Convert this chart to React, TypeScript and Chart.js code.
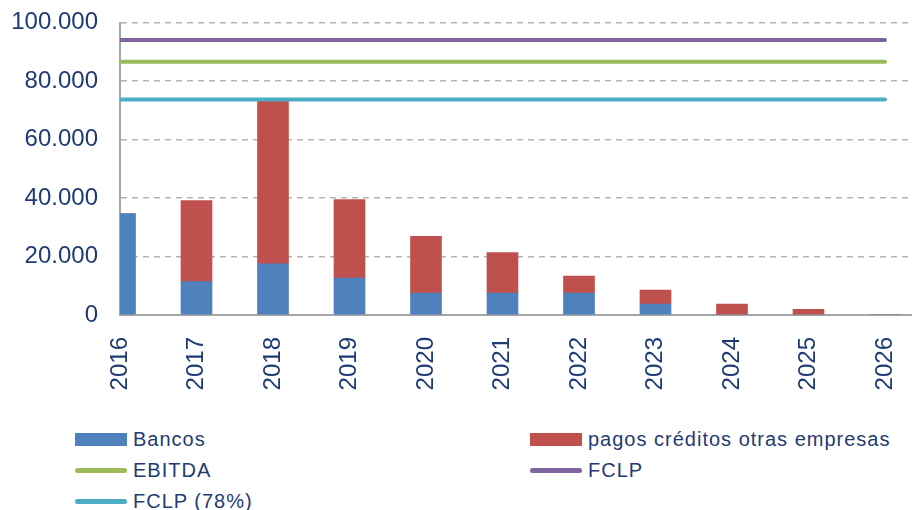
import React, { useEffect, useRef } from "react";
import { Chart, registerables } from "chart.js";

Chart.register(...registerables);

const years = ["2016", "2017", "2018", "2019", "2020", "2021", "2022", "2023", "2024", "2025", "2026"];
const bancos = [34700, 11400, 17500, 12600, 7500, 7500, 7500, 3700, 0, 0, 0];
const pagosCreditos = [0, 27700, 55800, 26900, 19400, 13800, 5800, 4800, 3700, 1900, 0];
const ebitda = [86600, 86600, 86600, 86600, 86600, 86600, 86600, 86600, 86600, 86600, 86600];
const fclp = [94000, 94000, 94000, 94000, 94000, 94000, 94000, 94000, 94000, 94000, 94000];
const fclp78 = [73700, 73700, 73700, 73700, 73700, 73700, 73700, 73700, 73700, 73700, 73700];
const yTicks = [0, 20000, 40000, 60000, 80000, 100000];

const TEXT = "#1F3B73";
const FONT = "'Liberation Sans', Arial, sans-serif";

const series = [
  { label: "Bancos", data: bancos, color: "#4F81BD", kind: "bar" },
  { label: "pagos créditos otras empresas", data: pagosCreditos, color: "#C0504D", kind: "bar" },
  { label: "EBITDA", data: ebitda, color: "#9BBB59", kind: "line" },
  { label: "FCLP", data: fclp, color: "#8064A2", kind: "line" },
  { label: "FCLP (78%)", data: fclp78, color: "#4BACC6", kind: "line" },
];

function fmt(v: number): string {
  return String(Math.round(v)).replace(/\B(?=(\d{3})+(?!\d))/g, ".");
}

export default function App() {
  const ref = useRef<HTMLCanvasElement>(null);

  useEffect(() => {
    if (!ref.current) return;
    const datasets: any[] = series.map((s, i) => {
      const pts = years.map((y, j) => ({ x: Number(y), y: s.data[j] }));
      if (s.kind === "bar") {
        return {
          type: "bar",
          label: s.label,
          data: pts,
          backgroundColor: s.color,
          borderWidth: 0,
          barThickness: 31,
          stack: "bars",
          order: 2,
        };
      }
      return {
        type: "line",
        label: s.label,
        data: pts,
        borderColor: s.color,
        backgroundColor: s.color,
        borderWidth: 4,
        pointRadius: 0,
        borderCapStyle: "round",
        stack: "line" + i,
        order: 1,
      };
    });

    const chart = new Chart(ref.current, {
      type: "bar",
      data: { datasets },
      options: {
        animation: false,
        responsive: false,
        layout: { padding: { top: 22.5, right: 0, bottom: 0, left: 0 } },
        plugins: { legend: { display: false }, tooltip: { enabled: false } },
        scales: {
          x: {
            type: "linear",
            stacked: true,
            offset: false,
            min: Number(years[0]),
            max: Number(years[years.length - 1]) + 0.353,
            grid: { display: false, offset: false },
            border: { display: true, color: "#A6A6A6", width: 2 },
            ticks: {
              stepSize: 1,
              includeBounds: false,
              autoSkip: false,
              maxRotation: 90,
              minRotation: 90,
              padding: 14,
              color: TEXT,
              font: { family: FONT, size: 24 },
              callback: (value: any) => {
                const idx = years.indexOf(String(value));
                return idx >= 0 ? years[idx] : "";
              },
            },
            afterFit: (scale: any) => {
              scale.height = 105;
              scale.paddingLeft = 0;
              scale.paddingRight = 0;
            },
          },
          y: {
            stacked: true,
            min: yTicks[0],
            max: yTicks[yTicks.length - 1],
            grid: {
              color: "#B3B3B3",
              lineWidth: 1.5,
              drawTicks: false,
            },
            border: { display: true, color: "#A6A6A6", width: 2, dash: [6, 5] },
            ticks: {
              stepSize: 20000,
              padding: 22,
              color: TEXT,
              font: { family: FONT, size: 24 },
              callback: (value: any) => fmt(Number(value)),
            },
            afterFit: (scale: any) => {
              scale.width = 120;
              scale.paddingTop = 0;
              scale.paddingBottom = 0;
            },
          },
        },
      } as any,
    });
    return () => chart.destroy();
  }, []);

  const rowTop = [428, 459, 490];
  const legendPos = [
    { left: 75, row: 0 },
    { left: 530, row: 0 },
    { left: 75, row: 1 },
    { left: 530, row: 1 },
    { left: 75, row: 2 },
  ];

  return (
    <div style={{ position: "absolute", left: 0, top: 0, width: 912, height: 510, background: "#fff", overflow: "hidden" }}>
      <canvas ref={ref} width={912} height={420} style={{ display: "block" }} />
      {series.map((s, i) => (
        <div
          key={s.label}
          style={{
            position: "absolute",
            left: legendPos[i].left,
            top: rowTop[legendPos[i].row],
            height: 22,
            display: "flex",
            alignItems: "center",
            whiteSpace: "nowrap",
          }}
        >
          <div
            style={{
              width: 52,
              height: s.kind === "bar" ? 13 : 5,
              borderRadius: s.kind === "bar" ? 0 : 3,
              background: s.color,
              marginRight: 6,
            }}
          />
          <span style={{ fontFamily: FONT, fontSize: 20, color: TEXT, letterSpacing: 1 }}>{s.label}</span>
        </div>
      ))}
    </div>
  );
}
